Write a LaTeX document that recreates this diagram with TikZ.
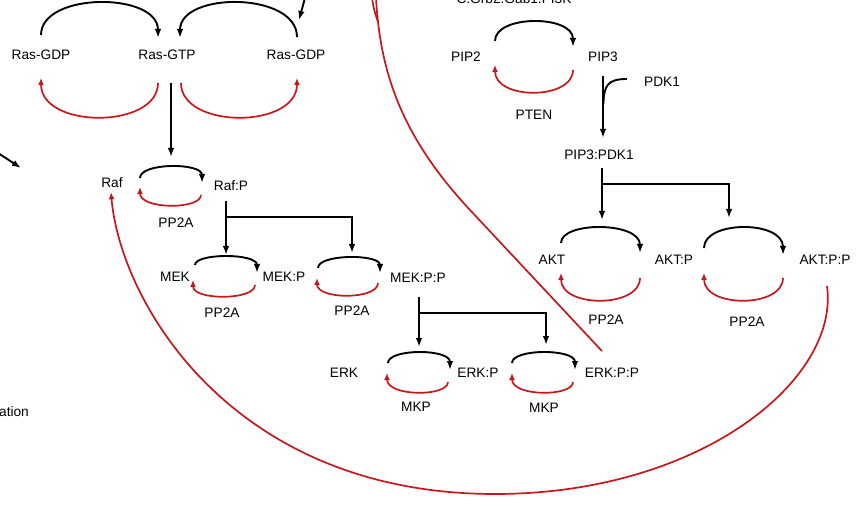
\documentclass[tikz,border=0pt]{standalone}
\usepackage{fontspec}
\setmainfont{Liberation Sans}
\usetikzlibrary{calc,arrows.meta}
\definecolor{inhred}{RGB}{198,24,28}

\begin{document}
\begin{tikzpicture}[x=1pt, y=-1pt, >={Latex[length=9pt,width=6.5pt]},
  font=\fontsize{13.7}{16}\selectfont,
  lbl/.style={inner sep=1pt},
  fwd/.style={->, line width=1.9pt, black},
  back/.style={-{Latex[length=7pt,width=6pt]}, line width=1.7pt, inhred},
  fb/.style={line width=1.7pt, inhred}]
  \clip (0,0) rectangle (864,510);
  % species
  \node[lbl] (rasgdpL) at (41,55) {Ras-GDP};
  \node[lbl] (rasgtp) at (167,55) {Ras-GTP};
  \node[lbl] (rasgdpR) at (296,55) {Ras-GDP};
  \node[lbl] (raf) at (112,183) {Raf};
  \node[lbl] (rafp) at (231,186) {Raf:P};
  \node[lbl] (pptaRaf) at (176,223) {PP2A};
  \node[lbl] (mek) at (175,277) {MEK};
  \node[lbl] (mekp) at (284,277) {MEK:P};
  \node[lbl] (mekpp) at (418,278) {MEK:P:P};
  \node[lbl] (pptaMek) at (222,313) {PP2A};
  \node[lbl] (pptaMekp) at (352,311) {PP2A};
  \node[lbl] (erk) at (344,373) {ERK};
  \node[lbl] (erkp) at (478,373) {ERK:P};
  \node[lbl] (erkpp) at (612,373) {ERK:P:P};
  \node[lbl] (mkpErk) at (416,407) {MKP};
  \node[lbl] (mkpErkp) at (544,408) {MKP};
  \node[lbl] (pik) at (514,-1) {C.Grb2.Gab1.PI3K};
  \node[lbl] (piptwo) at (466,57) {PIP2};
  \node[lbl] (pipthree) at (603,57) {PIP3};
  \node[lbl] (pdk) at (662,82) {PDK1};
  \node[lbl] (pten) at (534,115) {PTEN};
  \node[lbl] (pippdk) at (599,155) {PIP3:PDK1};
  \node[lbl] (akt) at (552,260) {AKT};
  \node[lbl] (aktp) at (674,260) {AKT:P};
  \node[lbl] (aktpp) at (825,260) {AKT:P:P};
  \node[lbl] (pptaAkt) at (606,320) {PP2A};
  \node[lbl] (pptaAktp) at (747,322) {PP2A};
  \node[lbl] (ation) at (14,412) {ation};
  % forward (black) arcs of the cycles: start x/y, tip x/y, peak y
  \foreach \xa/\ya/\xb/\yb/\pk in {41/35/158/38/3, 297/37/180/38/3, 140/178/202/183/167,
      195/265/257/273/257, 318/268/380/273/258, 388/363/450/370/353, 512/363/575/370/353,
      495/41/573/47/22, 561/243/640/253/228, 704/248/783/255/228} {
    \pgfmathsetmacro{\cy}{(\pk-0.125*(\ya+\yb))/0.75}
    \draw[fwd] (\xa,\ya) .. controls (\xa,\cy) and (\xb,\cy) .. (\xb,\yb);
  }
  % reverse (red) arcs
  \foreach \xa/\ya/\xb/\yb/\pk in {158/83/41/78/117, 181/83/297/78/117, 201/195/140/187/205,
      255/285/193/280/296, 378/283/317/278/295, 448/382/387/373/392, 573/382/512/373/392,
      573/70/495/65/92, 640/278/561/273/300, 783/278/704/273/300} {
    \pgfmathsetmacro{\cy}{(\pk-0.125*(\ya+\yb))/0.75}
    \draw[back] (\xa,\ya) .. controls (\xa,\cy) and (\xb,\cy) .. (\xb,\yb);
  }
  % activation arrows
  \coordinate (rafIn) at (171,157);
  \coordinate (mekIn) at (226,255);
  \coordinate (mekpIn) at (352,253);
  \coordinate (erkIn) at (419,347);
  \coordinate (erkpIn) at (546,345);
  \coordinate (aktIn) at (602,220);
  \coordinate (aktpIn) at (729,218);
  \draw[fwd] ($(rasgtp.south -| rafIn)+(0,22)$) -- (rafIn);
  \draw[fwd] ($(rafp.south -| mekIn)+(0,9)$) -- (mekIn);
  \draw[fwd] (mekIn |- 0,217) -| (mekpIn);
  \draw[fwd] ($(mekpp.south -| erkIn)+(0,13)$) -- (erkIn);
  \draw[fwd] (erkIn |- 0,313) -| (erkpIn);
  \draw[fwd, shorten <=13pt, shorten >=11pt] (pipthree.south) -- (pippdk.north -| pipthree.south);
  \draw[line width=1.9pt] ($(pdk.west)+(-16,-3)$) .. controls (607,79) and (604,86) .. (603.4,104);
  \draw[fwd] ($(pippdk.south -| aktIn)+(0,7)$) -- (aktIn);
  \draw[fwd] (aktIn |- 0,184) -| (aktpIn);
  \draw[fwd] (305,-2) -- (299,20);
  \draw[fwd] (-2,153) -- (21,168);
  % feedback (red)
  \draw[fb, -{Latex[length=7pt,width=6pt]}] ($(aktpp.south)+(2,20)$)
    .. controls (840,380) and (700,494) .. (495,494)
    .. controls (230,494) and (120,300) .. ($(raf.south)+(-1,3)$);
  \draw[fb] ($(erkpp.north)+(-10,-16)$) -- (470,210) .. controls (400,135) and (380,70) .. (376,-2);
  \draw[fb] (372,-2) .. controls (374,10) .. (378,22);
\end{tikzpicture}
\end{document}
